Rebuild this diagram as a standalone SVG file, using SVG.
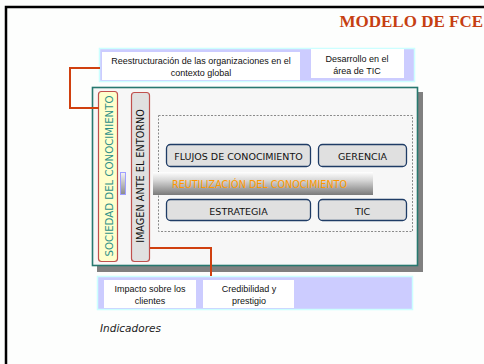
<svg xmlns="http://www.w3.org/2000/svg" width="484" height="364" viewBox="0 0 484 364">
<defs>
<linearGradient id="bar" x1="0" y1="0" x2="0" y2="1">
<stop offset="0" stop-color="#ffffff"/>
<stop offset="0.35" stop-color="#d8d8d8"/>
<stop offset="1" stop-color="#7a7a7a"/>
</linearGradient>
<linearGradient id="small" x1="0" y1="0" x2="0" y2="1">
<stop offset="0" stop-color="#f4f4f4"/>
<stop offset="1" stop-color="#8a8a8a"/>
</linearGradient>
<style>
.strip{fill:#ccccff;stroke:#ccffff;stroke-width:1.5}
.wb{fill:#ffffff}
.t8{font-family:"Liberation Sans",Arial,sans-serif;font-size:9px;fill:#111;text-anchor:middle}
.btn{fill:#e0e0e0;stroke:#1f3c66;stroke-width:1.3}
.bt{font-family:"DejaVu Sans",Verdana,sans-serif;font-size:9.5px;fill:#111;text-anchor:middle}
.conn{fill:none;stroke:#d0400f;stroke-width:2}
</style>
</defs>
<rect x="0" y="0" width="484" height="364" fill="#fdfefd"/>
<path d="M6,364 V7 H484" fill="none" stroke="#000" stroke-width="2.5"/>
<text x="483" y="27" text-anchor="end" font-family="'Liberation Serif','Times New Roman',serif" font-weight="bold" font-size="17" fill="#c63f12">MODELO DE FCE</text>

<g id="top-strip">
<rect class="strip" x="99.5" y="48.5" width="315" height="33"/>
<g id="reestructuracion">
<rect class="wb" x="102" y="52" width="198" height="28"/>
<text class="t8" x="201" y="64">Reestructuración de las organizaciones en el</text>
<text class="t8" x="201" y="76">contexto global</text>
</g>
<g id="desarrollo">
<rect class="wb" x="311" y="49" width="93" height="29"/>
<text class="t8" x="357" y="62">Desarrollo en el</text>
<text class="t8" x="357" y="74">área de TIC</text>
</g>
</g>

<g id="main">
<rect x="97" y="92" width="326" height="180" fill="#808080"/>
<rect x="92.5" y="87.5" width="325" height="178" fill="#f7f7f7" stroke="#27786f" stroke-width="1.6"/>
<rect x="158.5" y="115.5" width="254" height="116" fill="none" stroke="#8a8a8a" stroke-width="1" stroke-dasharray="2,1.5"/>
</g>

<g id="sociedad">
<rect x="98.5" y="91.5" width="19" height="170" rx="3" fill="#ffffcc" stroke="#c0504d" stroke-width="1.2"/>
<text transform="translate(113,176) rotate(-90)" text-anchor="middle" font-family="'DejaVu Sans',Verdana,sans-serif" font-size="10.2" fill="#2e9088">SOCIEDAD DEL CONOCIMIENTO</text>
</g>

<g id="indicador-pequeno">
<rect x="120.5" y="172.5" width="5" height="22" fill="url(#small)" stroke="#9f9fff" stroke-width="1"/>
</g>

<g id="imagen">
<rect x="131.5" y="92.5" width="18" height="169" rx="3" fill="#e0e0e0" stroke="#c0504d" stroke-width="1.2"/>
<text transform="translate(144,176) rotate(-90)" text-anchor="middle" font-family="'DejaVu Sans',Verdana,sans-serif" font-size="9.7" fill="#111">IMAGEN ANTE EL ENTORNO</text>
</g>

<g id="flujos">
<rect class="btn" x="166.5" y="144.5" width="144" height="22" rx="4"/>
<text class="bt" x="238.5" y="160">FLUJOS DE CONOCIMIENTO</text>
</g>
<g id="gerencia">
<rect class="btn" x="318.5" y="144.5" width="88" height="22" rx="4"/>
<text class="bt" x="362.5" y="160">GERENCIA</text>
</g>

<g id="reutilizacion">
<rect x="153" y="172" width="220" height="23" fill="url(#bar)"/>
<text x="172" y="187.5" font-family="'DejaVu Sans',Verdana,sans-serif" font-size="9.6" fill="#ff9900">REUTILIZACIÓN DEL CONOCIMIENTO</text>
</g>

<g id="estrategia">
<rect class="btn" x="166.5" y="199.5" width="144" height="21" rx="4"/>
<text class="bt" x="238.5" y="214.5">ESTRATEGIA</text>
</g>
<g id="tic">
<rect class="btn" x="318.5" y="199.5" width="88" height="21" rx="4"/>
<text class="bt" x="362.5" y="214.5">TIC</text>
</g>

<g id="bottom-strip">
<rect class="strip" x="97.5" y="276.5" width="315" height="33"/>
<g id="impacto">
<rect class="wb" x="104" y="280" width="92" height="28"/>
<text class="t8" x="150" y="292">Impacto sobre los</text>
<text class="t8" x="150" y="304">clientes</text>
</g>
<g id="credibilidad">
<rect class="wb" x="203" y="280" width="91" height="28"/>
<text class="t8" x="249" y="292">Credibilidad y</text>
<text class="t8" x="249" y="304">prestigio</text>
</g>
</g>

<g id="connectors">
<path class="conn" d="M100,68 H70 V108 H99"/>
<path class="conn" d="M150,248 H211 V276"/>
</g>

<text x="100" y="332" font-family="'DejaVu Sans',Verdana,sans-serif" font-style="italic" font-size="10.5" fill="#222">Indicadores</text>
</svg>
